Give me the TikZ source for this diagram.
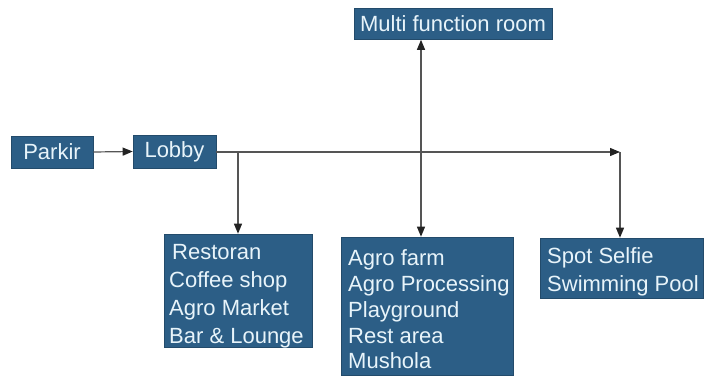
\documentclass[tikz,border=0pt]{standalone}
\usepackage{fontspec}
\setmainfont{Liberation Sans}
\usetikzlibrary{arrows.meta}
\definecolor{boxblue}{RGB}{44,94,134}
\definecolor{boxtext}{RGB}{232,244,250}
\definecolor{linegray}{RGB}{85,85,85}
\definecolor{tipdark}{RGB}{35,35,35}
\tikzset{
  box/.style={draw=boxblue!80!black, line width=0.6pt, fill=boxblue, text=boxtext, inner sep=0pt, font=\fontsize{22}{28}\selectfont},
  listtext/.style={text=boxtext, inner sep=0pt, align=left, anchor=west, font=\fontsize{22}{#1}\selectfont},
  conn/.style={draw=linegray, line width=1.2pt},
  arr/.style={conn, -{Triangle[length=10pt,width=8pt,color=tipdark]}}
}
\begin{document}
\begin{tikzpicture}[x=1pt,y=-1pt]
\useasboundingbox (0,0) rectangle (704,377);
\node[box, minimum width=82, minimum height=32] (parkir) at (52,152) {Parkir};
\node[box, minimum width=83, minimum height=33] (lobby) at (174.5,151.5) {Lobby};
\node[box, minimum width=198, minimum height=31] (multi) at (453,24) {Multi function room};
\node[box, minimum width=148, minimum height=113] (rest) at (238,290.5) {};
\node[listtext=28] (restT) at (169,296) {\hspace{3pt}Restoran\\Coffee shop\\Agro Market\\Bar \& Lounge};
\node[box, minimum width=172, minimum height=138] (agro) at (427,306) {};
\node[listtext=25.7] (agroT) at (348,309.5) {Agro farm\\Agro Processing\\Playground\\Rest area\\Mushola};
\node[box, minimum width=163, minimum height=60] (spot) at (621.5,268) {};
\node[listtext=28] (spotT) at (547,272) {Spot Selfie\\Swimming Pool};
\coordinate (jA) at (238,152);
\coordinate (jB) at (421,152);
\coordinate (jR) at (620,152);
\draw[arr] (parkir.east) -- (lobby.west);
\draw[arr] (lobby.east |- jR) -- (jR);
\draw[arr] (jA) -- (rest.north -| jA);
\draw[arr] (jB) -- (multi.south -| jB);
\draw[arr] (jB) -- (agro.north -| jB);
\draw[arr] (jR) -- (spot.north -| jR);
\end{tikzpicture}
\end{document}
